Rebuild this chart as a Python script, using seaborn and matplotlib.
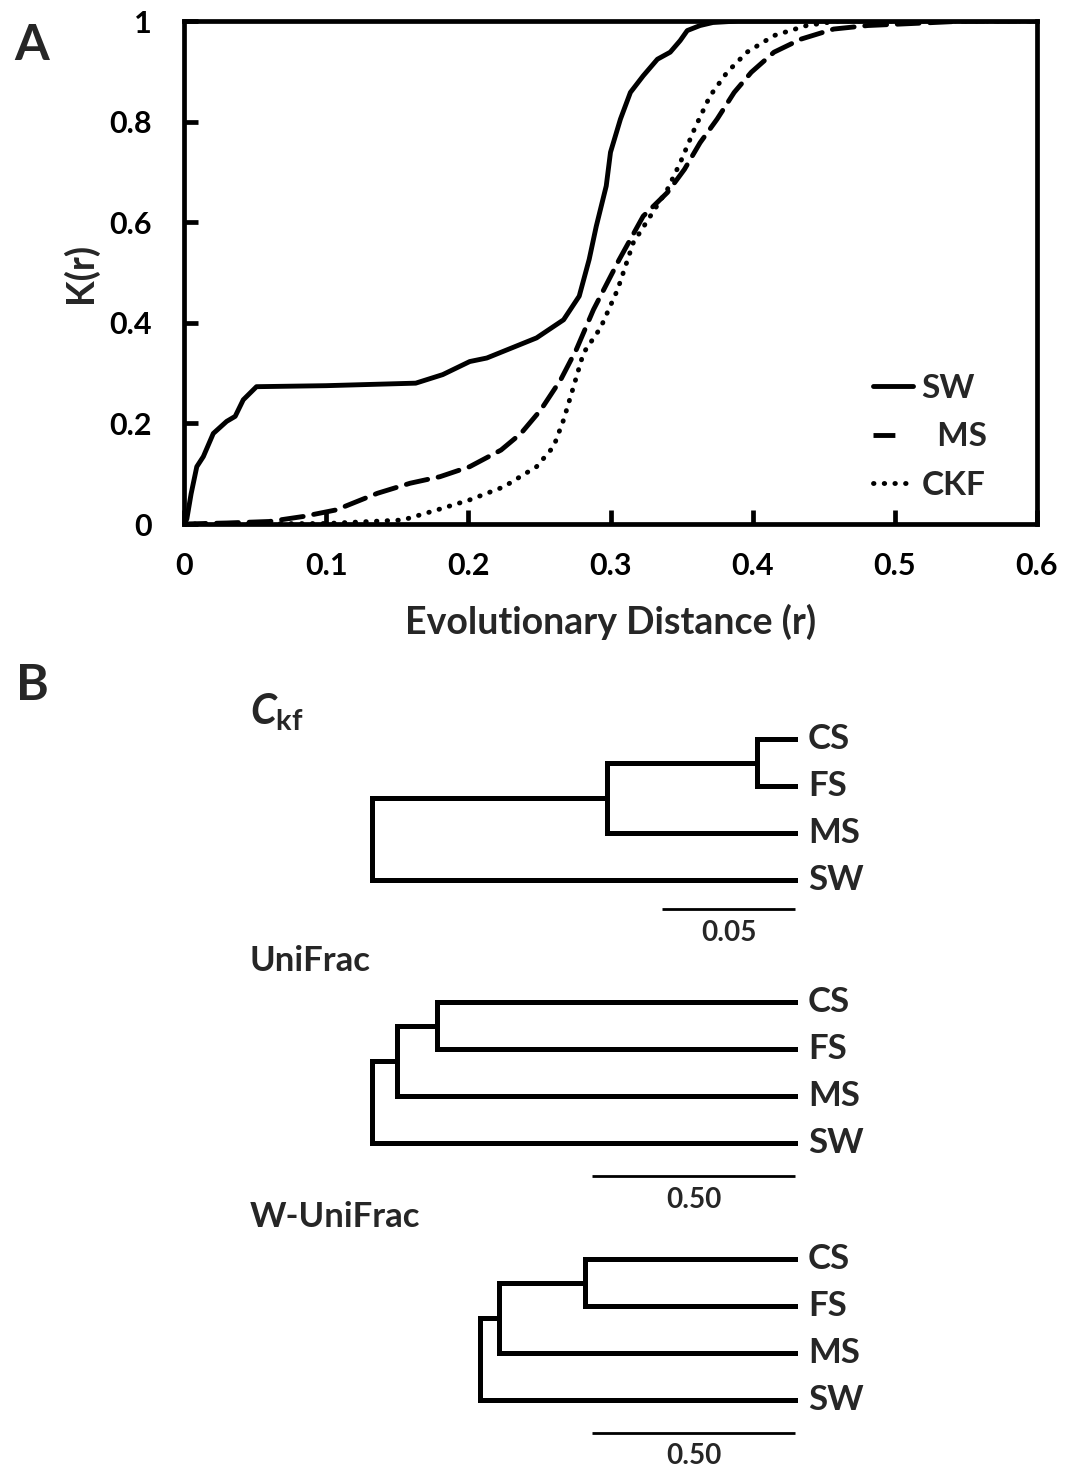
import numpy as np
import pandas as pd
import matplotlib
matplotlib.use("Agg")
import matplotlib.pyplot as plt
import seaborn as sns
from matplotlib.lines import Line2D

# ---------------- Panel A data ----------------
sw_r = [0, 0.002, 0.005, 0.009, 0.0136, 0.0206, 0.03, 0.036, 0.0417, 0.051, 0.1, 0.163,
        0.182, 0.201, 0.213, 0.248, 0.267, 0.278, 0.285, 0.29, 0.297, 0.3, 0.307, 0.314,
        0.323, 0.333, 0.342, 0.349, 0.354, 0.363, 0.372, 0.39, 0.6]
sw_k = [0, 0.01, 0.06, 0.114, 0.134, 0.18, 0.204, 0.214, 0.247, 0.273, 0.275, 0.28,
        0.297, 0.323, 0.33, 0.37, 0.406, 0.453, 0.526, 0.592, 0.672, 0.739, 0.805, 0.858,
        0.891, 0.924, 0.938, 0.961, 0.981, 0.991, 0.997, 1.0, 1.0]

ms_r = [0, 0.03, 0.06, 0.084, 0.107, 0.136, 0.159, 0.18, 0.201, 0.223, 0.237, 0.251,
        0.265, 0.276, 0.288, 0.306, 0.323, 0.34, 0.352, 0.363, 0.375, 0.387, 0.399,
        0.415, 0.434, 0.457, 0.481, 0.52, 0.55, 0.6]
ms_k = [0, 0.002, 0.005, 0.015, 0.028, 0.061, 0.081, 0.094, 0.114, 0.147, 0.18, 0.227,
        0.287, 0.347, 0.426, 0.525, 0.612, 0.659, 0.705, 0.758, 0.805, 0.858, 0.898,
        0.938, 0.964, 0.984, 0.991, 0.996, 1.0, 1.0]

ckf_r = [0, 0.1, 0.154, 0.178, 0.201, 0.225, 0.248, 0.26, 0.267, 0.274, 0.281, 0.293,
         0.305, 0.316, 0.328, 0.34, 0.349, 0.359, 0.37, 0.382, 0.396, 0.415, 0.438,
         0.46, 0.6]
ckf_k = [0, 0.001, 0.008, 0.028, 0.048, 0.074, 0.114, 0.154, 0.207, 0.273, 0.34, 0.39,
         0.466, 0.559, 0.612, 0.665, 0.718, 0.785, 0.851, 0.898, 0.938, 0.971, 0.991,
         1.0, 1.0]

series_names = ["SW", "MS", "CKF"]
legend_labels = ["SW", "  MS", "CKF"]
x_ticks = [0, 0.1, 0.2, 0.3, 0.4, 0.5, 0.6]
x_tick_labels = ["0", "0.1", "0.2", "0.3", "0.4", "0.5", "0.6"]
y_ticks = [0, 0.2, 0.4, 0.6, 0.8, 1.0]
y_tick_labels = ["0", "0.2", "0.4", "0.6", "0.8", "1"]
x_label = "Evolutionary Distance (r)"
y_label = "K(r)"

# ---------------- Panel B data ----------------
tree_leaves = ["CS", "FS", "MS", "SW"]
ckf_merge = [0.0143, 0.0707, 0.159]       # heights of (CS,FS), (+MS), (+SW)
unifrac_merge = [0.882, 0.980, 1.042]
wunifrac_merge = [0.517, 0.729, 0.776]
scale_values = [0.05, 0.50, 0.50]
scale_labels = ["0.05", "0.50", "0.50"]
tree_titles = [r"$\mathit{C}_{\mathrm{kf}}$", "UniFrac", "W-UniFrac"]

# ---------------- style ----------------
sns.set_theme(style="white")
FONT = "Lato"
plt.rcParams["font.family"] = [FONT, "DejaVu Sans"]
plt.rcParams["font.weight"] = "bold"
plt.rcParams["mathtext.fontset"] = "custom"
plt.rcParams["mathtext.it"] = f"{FONT}:italic:bold"
plt.rcParams["mathtext.rm"] = f"{FONT}:bold"
plt.rcParams["mathtext.bf"] = f"{FONT}:bold"

W, H = 1078, 1469
fig = plt.figure(figsize=(W / 100, H / 100), dpi=100)
fig.patch.set_facecolor("white")

def fx(px):
    return px / W

def fy(py):
    return 1 - py / H

LW = 3.5

# ---------------- Panel A ----------------
L, R, T, B = 184, 1037, 21, 524
ax = fig.add_axes([fx(L), fy(B), fx(R - L), (B - T) / H])

df = pd.concat([
    pd.DataFrame({"r": sw_r, "K": sw_k, "series": "SW"}),
    pd.DataFrame({"r": ms_r, "K": ms_k, "series": "MS"}),
    pd.DataFrame({"r": ckf_r, "K": ckf_k, "series": "CKF"}),
], ignore_index=True)

dash_map = {"SW": "", "MS": (4.5, 2.2), "CKF": (0.1, 2.1)}
sns.lineplot(data=df, x="r", y="K", style="series", style_order=series_names,
             dashes=dash_map, color="black", linewidth=LW, estimator=None,
             sort=False, legend=False, ax=ax)
for line in ax.get_lines():
    line.set_dash_capstyle("round")
    line.set_solid_capstyle("round")
    line.set_solid_joinstyle("round")

ax.set_xlim(0, 0.6)
ax.set_ylim(0, 1)
ax.set_xticks(x_ticks)
ax.set_xticklabels(x_tick_labels)
ax.set_yticks(y_ticks)
ax.set_yticklabels(y_tick_labels)
ax.tick_params(axis="both", direction="in", length=10, width=3.4, colors="black",
               labelsize=22, bottom=True, left=True)
ax.tick_params(axis="x", pad=20)
ax.tick_params(axis="y", pad=23)
for lab in ax.get_xticklabels() + ax.get_yticklabels():
    lab.set_fontweight("bold")
for sp in ax.spines.values():
    sp.set_visible(True)
    sp.set_color("black")
    sp.set_linewidth(3.4)

ax.set_xlabel(x_label, fontsize=27, fontweight="bold", va="center")
ax.set_ylabel(y_label, fontsize=27, fontweight="bold", va="center")
ax.xaxis.set_label_coords(0.5, (B - 622) / (B - T))
ax.yaxis.set_label_coords((80 - L) / (R - L), 0.5)

handles = [
    Line2D([], [], color="black", lw=LW),
    Line2D([], [], color="black", lw=LW, dashes=(4.5, 5)),
    Line2D([], [], color="black", lw=LW, dashes=(0.1, 2.1), dash_capstyle="round"),
]
leg = ax.legend(handles, legend_labels, loc="upper left",
                bbox_to_anchor=(fx(873), fy(374)), bbox_transform=fig.transFigure,
                frameon=False, handlelength=1.2, handletextpad=0.25,
                labelspacing=0.58, borderpad=0, borderaxespad=0,
                prop={"weight": "bold", "size": 24})

fig.text(fx(32), fy(45), "A", fontsize=36, fontweight="bold", ha="center", va="center")
fig.text(fx(32), fy(685), "B", fontsize=36, fontweight="bold", ha="center", va="center")

# ---------------- Panel B ----------------
LEAF_PX = 795
ROW_PX = 47.0
trees = [
    dict(merge=ckf_merge, band=(690, 950), y0=739, bar=scale_values[0], bar_px=133,
         bar_y=909, lab_y=933, title=tree_titles[0], title_y=712, blabel=scale_labels[0],
         tsize=30),
    dict(merge=unifrac_merge, band=(950, 1210), y0=1002, bar=scale_values[1], bar_px=203,
         bar_y=1176, lab_y=1200, title=tree_titles[1], title_y=961, blabel=scale_labels[1],
         tsize=25),
    dict(merge=wunifrac_merge, band=(1210, 1469), y0=1259, bar=scale_values[2], bar_px=203,
         bar_y=1433, lab_y=1456, title=tree_titles[2], title_y=1217, blabel=scale_labels[2],
         tsize=25),
]

def seg(a, x1, y1, x2, y2, lw=3.6):
    a.plot([x1, x2], [y1, y2], color="black", lw=lw, solid_capstyle="projecting")

for tr in trees:
    top, bot = tr["band"]
    k = tr["bar_px"] / tr["bar"]
    tax = fig.add_axes([0, fy(bot), 1, (bot - top) / H])
    tax.set_xlim(-LEAF_PX / k, (W - LEAF_PX) / k)
    tax.set_ylim((bot - tr["y0"]) / ROW_PX, (top - tr["y0"]) / ROW_PX)
    tax.axis("off")
    h1, h2, h3 = tr["merge"]
    n1 = 0.5
    n2 = (n1 + 2) / 2
    # (CS,FS)
    seg(tax, -h1, 0, 0, 0)
    seg(tax, -h1, 1, 0, 1)
    seg(tax, -h1, 0, -h1, 1)
    # +MS
    seg(tax, -h2, n1, -h1, n1)
    seg(tax, -h2, 2, 0, 2)
    seg(tax, -h2, n1, -h2, 2)
    # +SW
    seg(tax, -h3, n2, -h2, n2)
    seg(tax, -h3, 3, 0, 3)
    seg(tax, -h3, n2, -h3, 3)
    # scale bar
    by = (tr["bar_y"] - tr["y0"]) / ROW_PX
    tax.plot([-tr["bar"], 0], [by, by], color="black", lw=2, solid_capstyle="butt")
    tax.text(-tr["bar"] / 2, (tr["lab_y"] - tr["y0"]) / ROW_PX, tr["blabel"],
             fontsize=20, fontweight="bold", ha="center", va="center")
    for i, name in enumerate(tree_leaves):
        tax.text((808 - LEAF_PX) / k, i, name, fontsize=25, fontweight="bold",
                 ha="left", va="center")
    fig.text(fx(250), fy(tr["title_y"]), tr["title"], fontsize=tr["tsize"],
             fontweight="bold", ha="left", va="center")

fig.savefig("out.png", dpi=100, facecolor="white")
